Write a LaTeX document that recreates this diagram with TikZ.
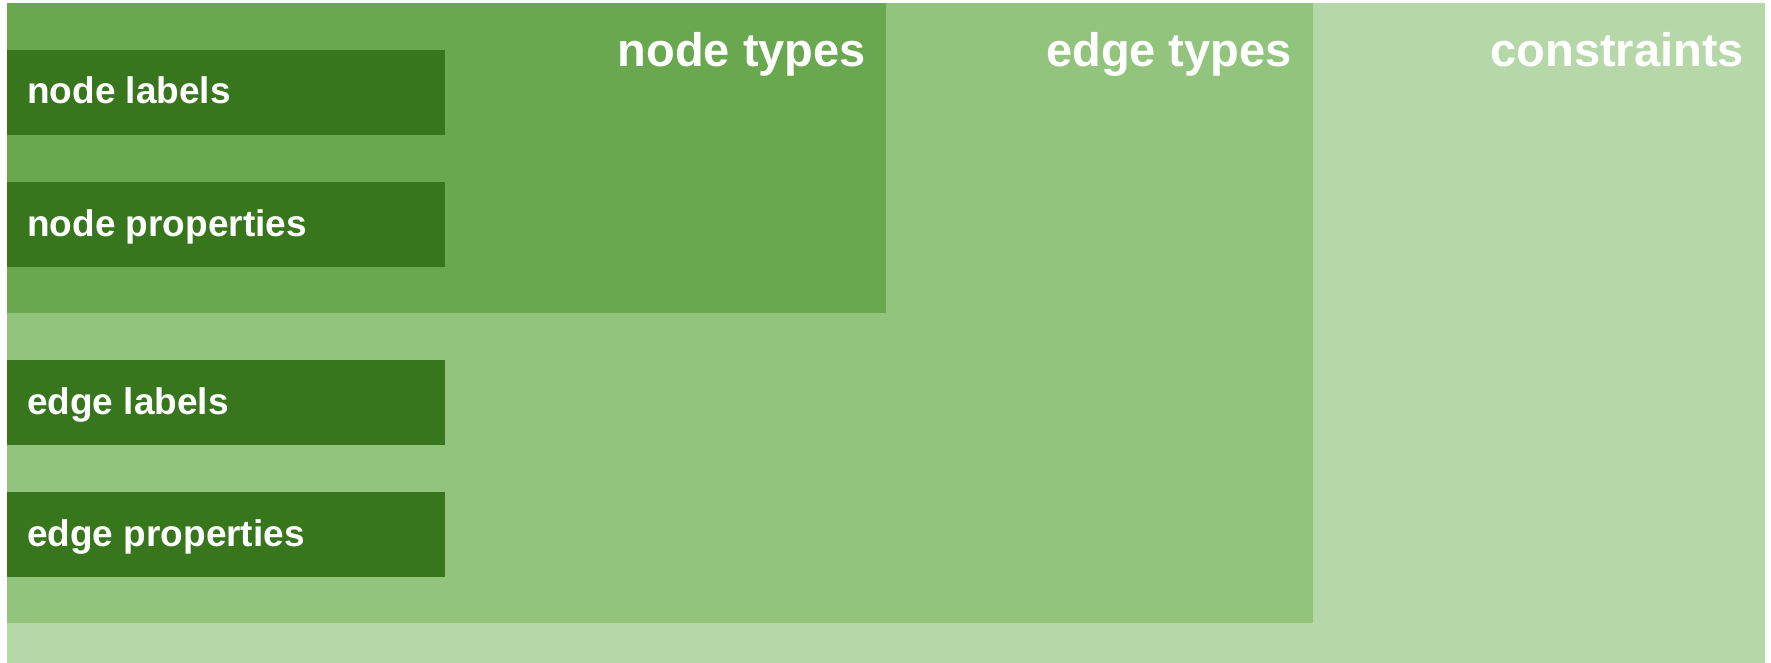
\documentclass[tikz,border=0pt]{standalone}
\usepackage{fontspec}
\setmainfont{Liberation Sans}
\definecolor{cDark}{HTML}{38761D}
\definecolor{cNode}{HTML}{6AA84F}
\definecolor{cEdge}{HTML}{93C47D}
\definecolor{cCons}{HTML}{B6D7A8}
\tikzset{
  area/.style={draw=none, inner sep=0pt, outer sep=0pt, anchor=north west},
  itembox/.style={area, fill=cDark, minimum width=438pt, minimum height=85pt},
  title/.style={inner sep=0pt, anchor=base east, text=white, font=\fontsize{47}{56}\selectfont\bfseries},
  itemtext/.style={inner sep=0pt, anchor=base west, text=white, font=\fontsize{37}{44}\selectfont\bfseries}
}
\begin{document}
\begin{tikzpicture}[x=1pt,y=-1pt]
\useasboundingbox (0,0) rectangle (1771,663);
\node[area, fill=cCons, minimum width=1758pt, minimum height=660pt] (cons) at (7,3) {};
\node[area, fill=cEdge, minimum width=1306pt, minimum height=620pt] (etypes) at (7,3) {};
\node[area, fill=cNode, minimum width=879pt, minimum height=310pt] (ntypes) at (7,3) {};
\node[title] (consT) at (1744,67) {constraints};
\node[title] (etypesT) at (1292,67) {edge types};
\node[title] (ntypesT) at (866,67) {node types};
\node[itembox] (nl) at (7,50) {};
\node[itembox] (np) at (7,182) {};
\node[itembox] (el) at (7,360) {};
\node[itembox] (ep) at (7,492) {};
\node[itemtext] (nlT) at (27,104) {node labels};
\node[itemtext] (npT) at (27,236) {node properties};
\node[itemtext] (elT) at (27,414) {edge labels};
\node[itemtext] (epT) at (27,546) {edge properties};
\end{tikzpicture}
\end{document}
